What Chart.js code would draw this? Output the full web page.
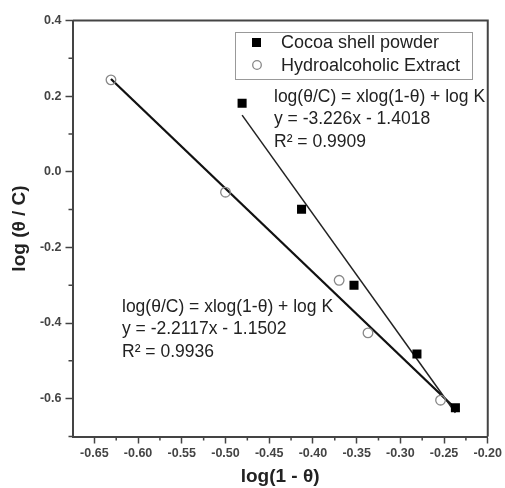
<!DOCTYPE html>
<html>
<head>
<meta charset="utf-8">
<script src="https://cdn.jsdelivr.net/npm/chart.js@4"></script>
<style>
    body { margin: 0; background: #fff; }
    #wrap { width: 505px; height: 488px; }
</style>
</head>
<body>
<div id="wrap"><canvas id="langmuirChart" width="505" height="488"></canvas></div>
<script>
const cocoaLabel = 'Cocoa shell powder';
const extractLabel = 'Hydroalcoholic Extract';

const cocoaX = [-0.481, -0.413, -0.353, -0.281, -0.237];
const cocoaY = [0.181, -0.099, -0.300, -0.482, -0.624];
const extractX = [-0.631, -0.500, -0.370, -0.337, -0.254];
const extractY = [0.243, -0.054, -0.287, -0.426, -0.604];

// slope, intercept, R² as printed on the figure
const cocoaFit = [-3.226, -1.4018, 0.9909];
const extractFit = [-2.2117, -1.1502, 0.9936];
const cocoaFitRange = [-0.481, -0.237];
const extractFitRange = [-0.631, -0.237];

const xTicks = [-0.65, -0.60, -0.55, -0.50, -0.45, -0.40, -0.35, -0.30, -0.25, -0.20];
const xMinorTicks = [-0.625, -0.575, -0.525, -0.475, -0.425, -0.375, -0.325, -0.275, -0.225];
const yTicks = [-0.6, -0.4, -0.2, 0.0, 0.2, 0.4];
const yMinorTicks = [-0.7, -0.5, -0.3, -0.1, 0.1, 0.3];

document.addEventListener('DOMContentLoaded', () => {
    const axisColor = '#444';
    const textColor = '#222';
    const tickFont = { family: 'Liberation Sans, Arial, sans-serif', size: 12.5, weight: 'bold' };
    const titleFont = { family: 'Liberation Sans, Arial, sans-serif', size: 19, weight: 'bold' };
    const noteFont = '17.5px "Liberation Sans", Arial, sans-serif';
    const legendFont = '18px "Liberation Sans", Arial, sans-serif';

    function toPoints(xs, ys) {
        return xs.map((x, i) => ({ x, y: ys[i] }));
    }

    function fitLine(fit, range) {
        return range.map(x => ({ x, y: fit[0] * x + fit[1] }));
    }

    function equationLines(fit) {
        return [
            'log(\u03b8/C) = xlog(1-\u03b8) + log K',
            'y = ' + fit[0] + 'x - ' + Math.abs(fit[1]),
            'R\u00b2 = ' + fit[2]
        ];
    }

    const extrasPlugin = {
        id: 'extras',
        afterDraw(chart) {
            const ctx = chart.ctx;
            const area = chart.chartArea;
            const xs = chart.scales.x;
            const ys = chart.scales.y;
            ctx.save();

            // top and right frame
            ctx.strokeStyle = axisColor;
            ctx.lineWidth = 2;
            ctx.beginPath();
            ctx.moveTo(area.left, area.top);
            ctx.lineTo(area.right, area.top);
            ctx.lineTo(area.right, area.bottom);
            ctx.stroke();

            // minor ticks
            ctx.lineWidth = 1.5;
            ctx.beginPath();
            xMinorTicks.forEach(v => {
                const px = xs.getPixelForValue(v);
                ctx.moveTo(px, area.bottom);
                ctx.lineTo(px, area.bottom + 4);
            });
            yMinorTicks.forEach(v => {
                const py = ys.getPixelForValue(v);
                ctx.moveTo(area.left, py);
                ctx.lineTo(area.left - 4, py);
            });
            ctx.stroke();

            // legend box
            const lx = 235, ly = 32, lw = 237, lh = 47;
            ctx.strokeStyle = '#999';
            ctx.lineWidth = 1;
            ctx.strokeRect(lx + 0.5, ly + 0.5, lw, lh);

            ctx.font = legendFont;
            ctx.textBaseline = 'middle';
            ctx.textAlign = 'left';

            ctx.fillStyle = '#000';
            ctx.fillRect(252, 38, 9, 9);
            ctx.fillStyle = textColor;
            ctx.fillText(chart.data.datasets[0].label, 281, 43);

            ctx.strokeStyle = '#888';
            ctx.lineWidth = 1.3;
            ctx.beginPath();
            ctx.arc(257, 65, 4.3, 0, Math.PI * 2);
            ctx.stroke();
            ctx.fillText(chart.data.datasets[1].label, 281, 66);

            // fit equations
            ctx.font = noteFont;
            equationLines(cocoaFit).forEach((t, i) => {
                ctx.fillText(t, 274, 97 + i * 22.5);
            });
            equationLines(extractFit).forEach((t, i) => {
                ctx.fillText(t, 122, 307 + i * 22.5);
            });

            ctx.restore();
        }
    };

    const canvas = document.getElementById('langmuirChart');

    new Chart(canvas, {
        type: 'scatter',
        data: {
            datasets: [
                {
                    label: cocoaLabel,
                    data: toPoints(cocoaX, cocoaY),
                    pointStyle: 'rect',
                    pointRadius: 6.4,
                    backgroundColor: '#000',
                    borderWidth: 0,
                    order: 0
                },
                {
                    label: extractLabel,
                    data: toPoints(extractX, extractY),
                    pointStyle: 'circle',
                    pointRadius: 4.8,
                    backgroundColor: 'rgba(0, 0, 0, 0)',
                    borderColor: '#888',
                    borderWidth: 1.3,
                    order: 0
                },
                {
                    label: 'cocoa fit',
                    data: fitLine(cocoaFit, cocoaFitRange),
                    showLine: true,
                    pointRadius: 0,
                    borderColor: '#222',
                    borderWidth: 1.5,
                    order: 1
                },
                {
                    label: 'extract fit',
                    data: fitLine(extractFit, extractFitRange),
                    showLine: true,
                    pointRadius: 0,
                    borderColor: '#111',
                    borderWidth: 2.3,
                    order: 1
                }
            ]
        },
        options: {
            responsive: false,
            animation: false,
            devicePixelRatio: 1,
            layout: {
                padding: { top: 20.5, right: 15, left: 0, bottom: 0 }
            },
            plugins: {
                legend: { display: false },
                tooltip: { enabled: false }
            },
            scales: {
                x: {
                    type: 'linear',
                    min: -0.675,
                    max: -0.20,
                    afterBuildTicks: scale => {
                        scale.ticks = xTicks.map(value => ({ value }));
                    },
                    afterFit: scale => {
                        scale.height = 51.5;
                    },
                    ticks: {
                        color: '#444',
                        font: tickFont,
                        padding: 3,
                        maxRotation: 0,
                        autoSkip: false,
                        callback: value => value.toFixed(2)
                    },
                    grid: {
                        drawOnChartArea: false,
                        tickLength: 7,
                        tickColor: axisColor,
                        tickWidth: 1.5
                    },
                    border: { color: axisColor, width: 2 },
                    title: {
                        display: true,
                        text: 'log(1 - \u03b8)',
                        color: textColor,
                        font: titleFont,
                        padding: { top: 0, bottom: 0 }
                    }
                },
                y: {
                    type: 'linear',
                    min: -0.7,
                    max: 0.4,
                    afterBuildTicks: scale => {
                        scale.ticks = yTicks.map(value => ({ value }));
                    },
                    afterFit: scale => {
                        scale.width = 72.5;
                    },
                    ticks: {
                        color: '#444',
                        font: tickFont,
                        padding: 4,
                        autoSkip: false,
                        callback: value => Math.abs(value) < 1e-9 ? '0.0' : value.toFixed(1)
                    },
                    grid: {
                        drawOnChartArea: false,
                        tickLength: 7,
                        tickColor: axisColor,
                        tickWidth: 1.5
                    },
                    border: { color: axisColor, width: 2 },
                    title: {
                        display: true,
                        text: 'log (\u03b8 / C)',
                        color: textColor,
                        font: titleFont,
                        padding: { top: 8, bottom: 0 }
                    }
                }
            }
        },
        plugins: [extrasPlugin]
    });
});
</script>
</body>
</html>
